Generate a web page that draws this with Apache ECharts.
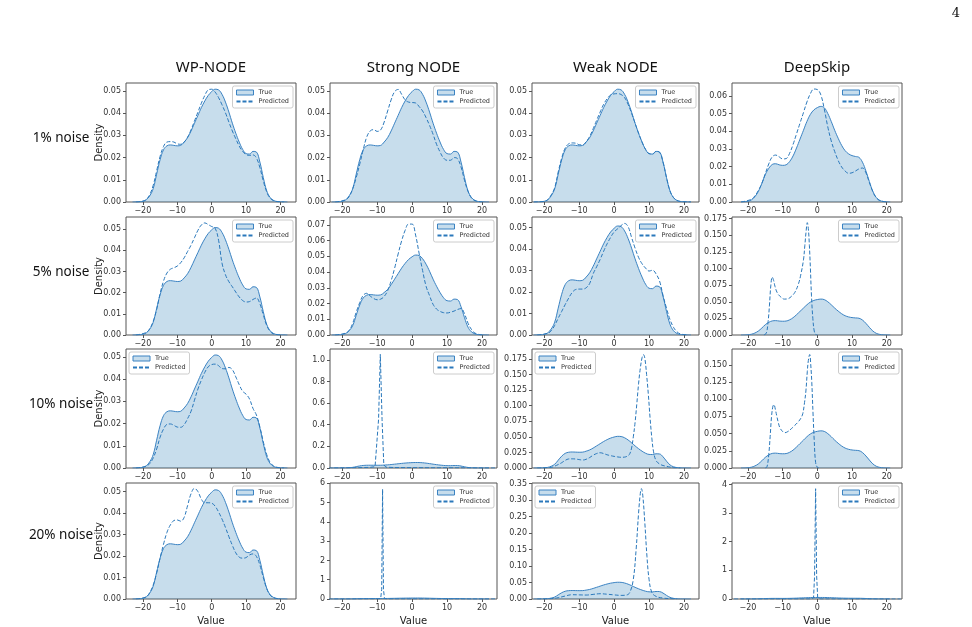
<!DOCTYPE html>
<html>
<head>
<meta charset="utf-8">
<script src="https://cdn.jsdelivr.net/npm/echarts@6/dist/echarts.min.js"></script>
<style>
html, body { margin: 0; padding: 0; background: #fff; }
#main { width: 972px; height: 627px; }
</style>
</head>
<body>
<div id="main"></div>
<script>
var methods = ['WP-NODE', 'Strong NODE', 'Weak NODE', 'DeepSkip'];
var noiseLevels = ['1% noise', '5% noise', '10% noise', '20% noise'];
var xTicks = [-20, -10, 0, 10, 20];

// true densities (same data in columns 1-3, another run for DeepSkip)
var trueMain = [[-23,0],[-21,0.0001],[-20,0.0003],[-19,0.001],[-18,0.0028],[-17,0.006],[-16,0.0125],[-15,0.019],[-14,0.0235],[-13,0.0253],[-12,0.0257],[-11,0.0255],[-10,0.0253],[-9,0.0255],[-8,0.027],[-7,0.029],[-6,0.032],[-5,0.0355],[-4,0.039],[-3,0.0425],[-2,0.0455],[-1,0.048],[0,0.0497],[1,0.0508],[2,0.0505],[3,0.0485],[4,0.045],[5,0.0405],[6,0.0355],[7,0.031],[8,0.027],[9,0.0237],[10,0.0218],[11,0.0216],[12,0.0228],[13,0.0225],[14,0.018],[15,0.011],[16,0.005],[17,0.002],[18,0.0007],[19,0.0002],[20,0.0001],[22,0]];
var trueDeep = [[-22,0],[-20,0.0004],[-19,0.0012],[-18,0.003],[-17,0.006],[-16,0.0105],[-15,0.0155],[-14,0.019],[-13,0.0212],[-12,0.0216],[-11,0.021],[-10,0.0207],[-9,0.021],[-8,0.0228],[-7,0.026],[-6,0.0305],[-5,0.0355],[-4,0.0405],[-3,0.0455],[-2,0.0495],[-1,0.052],[0,0.0533],[1,0.054],[2,0.0532],[3,0.05],[4,0.0455],[5,0.0405],[6,0.036],[7,0.032],[8,0.029],[9,0.0272],[10,0.0262],[11,0.0257],[12,0.0252],[13,0.0225],[14,0.0175],[15,0.0115],[16,0.006],[17,0.0025],[18,0.0009],[19,0.0003],[21,0]];

// predicted densities, 1% noise
var predWp1 = [[-22,0],[-20,0.0004],[-19,0.0012],[-18,0.0033],[-17,0.0075],[-16,0.014],[-15,0.0205],[-14,0.025],[-13,0.027],[-12,0.0272],[-11,0.027],[-10,0.0262],[-9,0.026],[-8,0.027],[-7,0.0292],[-6,0.0325],[-5,0.0365],[-4,0.0405],[-3,0.0445],[-2,0.048],[-1,0.0505],[0,0.0508],[1,0.0495],[2,0.047],[3,0.0438],[4,0.0402],[5,0.036],[6,0.032],[7,0.0285],[8,0.0252],[9,0.0228],[10,0.0214],[11,0.021],[12,0.0212],[13,0.0198],[14,0.0155],[15,0.0095],[16,0.0045],[17,0.0017],[18,0.0006],[19,0.0002],[21,0]];
var predStrong1 = [[-22,0],[-19,0.001],[-18,0.0025],[-17,0.006],[-16,0.011],[-15,0.017],[-14,0.0235],[-13,0.0292],[-12,0.032],[-11,0.0326],[-10,0.0318],[-9,0.0325],[-8,0.036],[-7,0.041],[-6,0.046],[-5,0.0497],[-4,0.0507],[-3,0.0485],[-2,0.046],[-1,0.045],[0,0.0448],[1,0.0446],[2,0.043],[3,0.041],[4,0.038],[5,0.0345],[6,0.0305],[7,0.026],[8,0.0225],[9,0.0198],[10,0.0188],[11,0.0188],[12,0.02],[13,0.0195],[14,0.0158],[15,0.0098],[16,0.0048],[17,0.0018],[18,0.0006],[20,0]];
var predWeak1 = [[-23,0],[-20,0.0003],[-19,0.001],[-18,0.0032],[-17,0.0065],[-16,0.0135],[-15,0.0198],[-14,0.0243],[-13,0.0262],[-12,0.0266],[-11,0.0265],[-10,0.0258],[-9,0.0257],[-8,0.0272],[-7,0.0295],[-6,0.033],[-5,0.0368],[-4,0.0405],[-3,0.044],[-2,0.0465],[-1,0.0482],[0,0.0487],[1,0.0488],[2,0.0484],[3,0.047],[4,0.044],[5,0.04],[6,0.0355],[7,0.031],[8,0.027],[9,0.0237],[10,0.0218],[11,0.0216],[12,0.0228],[13,0.0224],[14,0.018],[15,0.011],[16,0.005],[17,0.002],[18,0.0007],[20,0.0001],[22,0]];
var predDeep1 = [[-22,0],[-19,0.0015],[-18,0.0035],[-17,0.0065],[-16,0.0105],[-15,0.016],[-14,0.0215],[-13,0.0255],[-12,0.0265],[-11,0.0255],[-10,0.0243],[-9,0.0245],[-8,0.0275],[-7,0.0325],[-6,0.0385],[-5,0.0445],[-4,0.0505],[-3,0.0565],[-2,0.0612],[-1,0.0638],[0,0.0635],[1,0.0605],[2,0.0525],[3,0.0425],[4,0.0345],[5,0.0285],[6,0.0235],[7,0.0198],[8,0.0175],[9,0.0162],[10,0.0165],[11,0.0175],[12,0.0187],[13,0.0192],[14,0.0165],[15,0.011],[16,0.0058],[17,0.0024],[18,0.0008],[20,0]];

// 5% noise
var predWp5 = [[-22,0],[-19,0.0012],[-18,0.003],[-17,0.0065],[-16,0.012],[-15,0.0195],[-14,0.0255],[-13,0.0293],[-12,0.0311],[-11,0.0318],[-10,0.0326],[-9,0.0342],[-8,0.0365],[-7,0.0395],[-6,0.0425],[-5,0.046],[-4,0.0495],[-3,0.052],[-2,0.053],[-1,0.0522],[0,0.0513],[1,0.0505],[2,0.0448],[3,0.034],[4,0.0285],[5,0.0252],[6,0.0228],[7,0.0203],[8,0.018],[9,0.0163],[10,0.0156],[11,0.0158],[12,0.0168],[13,0.0175],[14,0.0148],[15,0.0095],[16,0.0045],[17,0.0017],[18,0.0005],[20,0]];
var predStrong5 = [[-22,0],[-19,0.0012],[-18,0.003],[-17,0.0075],[-16,0.0145],[-15,0.0205],[-14,0.0252],[-13,0.0265],[-12,0.0248],[-11,0.0232],[-10,0.0224],[-9,0.0228],[-8,0.0245],[-7,0.0282],[-6,0.0345],[-5,0.0425],[-4,0.0515],[-3,0.0598],[-2,0.0665],[-1,0.0705],[0,0.0705],[1,0.0635],[2,0.052],[3,0.041],[4,0.031],[5,0.025],[6,0.0195],[7,0.0165],[8,0.015],[9,0.0142],[10,0.014],[11,0.0145],[12,0.0152],[13,0.0162],[14,0.0168],[15,0.0135],[16,0.0075],[17,0.0035],[18,0.0012],[20,0]];
var predWeak5 = [[-22,0],[-19,0.0008],[-18,0.002],[-17,0.0045],[-16,0.0078],[-15,0.011],[-14,0.0142],[-13,0.0172],[-12,0.0198],[-11,0.0212],[-10,0.0214],[-9,0.0214],[-8,0.022],[-7,0.024],[-6,0.0285],[-5,0.0318],[-4,0.0352],[-3,0.039],[-2,0.0425],[-1,0.0455],[0,0.048],[1,0.0495],[2,0.051],[3,0.052],[4,0.0505],[5,0.0455],[6,0.0405],[7,0.0362],[8,0.0332],[9,0.0312],[10,0.0298],[11,0.0302],[12,0.0285],[13,0.0252],[14,0.0185],[15,0.0125],[16,0.0072],[17,0.0036],[18,0.0015],[19,0.0005],[21,0]];
var predDeep5 = [[-15.4,0],[-14.7,0.003],[-14.2,0.02],[-13.8,0.045],[-13.4,0.075],[-13,0.087],[-12.6,0.082],[-12.2,0.073],[-11.5,0.063],[-10.5,0.057],[-9.5,0.054],[-8.5,0.0545],[-7.5,0.058],[-6.5,0.064],[-5.5,0.076],[-4.8,0.09],[-4,0.113],[-3.6,0.135],[-3.2,0.158],[-2.9,0.169],[-2.6,0.16],[-2.3,0.135],[-2,0.1],[-1.7,0.06],[-1.3,0.025],[-0.9,0.006],[-0.5,0.001],[0,0]];

// 10% noise
var predWp10 = [[-22,0],[-19,0.0008],[-18,0.002],[-17,0.0045],[-16,0.0085],[-15,0.0138],[-14,0.0175],[-13,0.0196],[-12,0.0198],[-11,0.0192],[-10,0.0184],[-9,0.0183],[-8,0.0195],[-7,0.0222],[-6,0.0255],[-5,0.0305],[-4,0.0355],[-3,0.0395],[-2,0.043],[-1,0.0455],[0,0.0465],[1,0.0467],[2,0.046],[3,0.0447],[4,0.0446],[5,0.0452],[6,0.0442],[7,0.041],[8,0.0375],[9,0.0345],[10,0.0332],[11,0.031],[12,0.0268],[13,0.0238],[14,0.0185],[15,0.0118],[16,0.006],[17,0.0025],[18,0.0009],[19,0.0003],[21,0]];
var predStrong10 = [[-24,0],[-20,0.001],[-16,0.003],[-12,0.006],[-10.6,0.012],[-10.1,0.03],[-9.6,0.45],[-9.1,1.05],[-8.6,0.45],[-8.1,0.03],[-7.5,0.008],[-5,0.004],[0,0.003],[5,0.002],[10,0.002],[15,0.001],[20,0],[24,0]];
var predWeak10 = [[-22,0],[-18,0.001],[-17,0.003],[-16,0.0055],[-15,0.0085],[-14,0.0122],[-13,0.0145],[-12,0.0147],[-11,0.0144],[-10,0.0135],[-9,0.0128],[-8,0.014],[-7,0.0168],[-6,0.0205],[-5,0.0232],[-4,0.0245],[-3,0.0232],[-2,0.0212],[-1,0.0198],[0,0.0187],[1,0.0178],[2,0.0172],[3,0.0175],[4,0.0198],[4.5,0.023],[5,0.032],[5.5,0.05],[6,0.073],[6.5,0.103],[7,0.135],[7.5,0.16],[8,0.177],[8.4,0.182],[8.8,0.176],[9.3,0.15],[9.8,0.118],[10.3,0.08],[10.8,0.048],[11.3,0.026],[12,0.012],[13,0.0065],[14,0.004],[15,0.0027],[16,0.0015],[17,0.0005],[19,0]];
var predDeep10 = [[-15,0],[-14.5,0.002],[-14,0.02],[-13.6,0.046],[-13.2,0.075],[-12.8,0.09],[-12.5,0.092],[-12.1,0.085],[-11.7,0.0757],[-11.2,0.065],[-10.8,0.0586],[-10,0.053],[-9.4,0.0513],[-8.5,0.053],[-7.5,0.0571],[-6.5,0.062],[-5.7,0.066],[-4.8,0.072],[-4.2,0.079],[-3.7,0.095],[-3.3,0.112],[-2.9,0.14],[-2.6,0.156],[-2.2,0.165],[-1.9,0.15],[-1.6,0.1245],[-1.25,0.08],[-0.9,0.04],[-0.5,0.008],[0,0.001],[0.5,0]];

// 20% noise
var predWp20 = [[-22,0],[-19,0.001],[-18,0.003],[-17,0.0065],[-16,0.012],[-15,0.019],[-14,0.0255],[-13,0.031],[-12,0.0345],[-11,0.0365],[-10,0.0368],[-9,0.0362],[-8,0.038],[-7,0.0435],[-6,0.049],[-5,0.0515],[-4,0.05],[-3,0.0465],[-2,0.0448],[-1,0.0448],[0,0.0446],[1,0.0432],[2,0.0405],[3,0.0372],[4,0.0333],[5,0.029],[6,0.025],[7,0.0215],[8,0.0195],[9,0.019],[10,0.0193],[11,0.0205],[12,0.021],[13,0.0198],[14,0.0158],[15,0.01],[16,0.0048],[17,0.0018],[18,0.0006],[20,0]];
var predStrong20 = [[-24,0],[-12,0.001],[-9.6,0.004],[-9,0.02],[-8.7,0.5],[-8.45,5.7],[-8.2,0.5],[-7.9,0.02],[-7,0.003],[0,0.001],[24,0]];
var predWeak20 = [[-22,0],[-18,0.001],[-16,0.004],[-14,0.009],[-12,0.013],[-10,0.0125],[-8,0.012],[-6,0.014],[-4,0.016],[-2,0.0145],[0,0.0125],[2,0.011],[3.5,0.012],[4.5,0.02],[5.5,0.06],[6.3,0.15],[7,0.26],[7.5,0.32],[7.8,0.335],[8.2,0.315],[8.8,0.23],[9.4,0.13],[10,0.06],[10.8,0.02],[12,0.008],[14,0.003],[16,0.001],[18,0]];
var predDeep20 = [[-24,0],[-2,0],[-1.1,0.04],[-0.8,0.8],[-0.5,3.85],[-0.2,0.8],[0.1,0.04],[1,0],[24,0]];

// y ticks
var yTicks05 = [0, 0.01, 0.02, 0.03, 0.04, 0.05];
var yTicks06 = [0, 0.01, 0.02, 0.03, 0.04, 0.05, 0.06];
var yTicks07 = [0, 0.01, 0.02, 0.03, 0.04, 0.05, 0.06, 0.07];
var yTicks175 = [0, 0.025, 0.05, 0.075, 0.1, 0.125, 0.15, 0.175];
var yTicks150 = [0, 0.025, 0.05, 0.075, 0.1, 0.125, 0.15];
var yTicks10 = [0, 0.2, 0.4, 0.6, 0.8, 1.0];
var yTicks35 = [0, 0.05, 0.1, 0.15, 0.2, 0.25, 0.3, 0.35];
var yTicks6 = [0, 1, 2, 3, 4, 5, 6];
var yTicks4 = [0, 1, 2, 3, 4];

// panels row by row
var panelTrue = [trueMain, trueMain, trueMain, trueDeep];
var panelPred = [predWp1, predStrong1, predWeak1, predDeep1,
                 predWp5, predStrong5, predWeak5, predDeep5,
                 predWp10, predStrong10, predWeak10, predDeep10,
                 predWp20, predStrong20, predWeak20, predDeep20];
var panelYMax = [0.0536, 0.0536, 0.0536, 0.0672,
                 0.0558, 0.075, 0.055, 0.1775,
                 0.0535, 1.10, 0.191, 0.173,
                 0.054, 6.02, 0.352, 4.05];
var panelYTicks = [yTicks05, yTicks05, yTicks05, yTicks06,
                   yTicks05, yTicks07, yTicks05, yTicks175,
                   yTicks05, yTicks10, yTicks175, yTicks150,
                   yTicks05, yTicks6, yTicks35, yTicks4];
var panelYDec = [2, 2, 2, 2, 2, 2, 2, 3, 2, 1, 3, 3, 2, 0, 2, 0];
var colXMin = [-24.9, -23.5, -23.5, -24.6];
var colXMax = [24.5, 24.3, 24.3, 24.4];

// layout
var colLeft = [126, 330, 532, 732];
var colWidth = [170, 167, 167, 170];
var rowTop = [83, 217, 349, 483];
var rowHeight = [119, 118, 119, 117];
var legendOnLeft = [0,0,0,0, 0,0,0,0, 1,0,1,0, 0,0,1,0];

var fillColor = 'rgba(31,119,180,0.25)';
var lineColor = '#3a82c2';
var tickColor = '#333';

var grids = [], xAxes = [], yAxes = [], series = [], legends = [], graphics = [];

function fmtX(v) {
    return v < 0 ? '\u2212' + (-v) : String(v);
}

for (var r = 0; r < 4; r++) {
    for (var c = 0; c < 4; c++) {
        var i = r * 4 + c;
        var dec = panelYDec[i];
        grids.push({
            left: colLeft[c], top: rowTop[r], width: colWidth[c], height: rowHeight[r],
            show: true, borderColor: '#555', borderWidth: 1, backgroundColor: 'transparent'
        });
        xAxes.push({
            type: 'value', gridIndex: i, min: colXMin[c], max: colXMax[c],
            name: r === 3 ? 'Value' : '', nameLocation: 'middle', nameGap: 17,
            nameMoveOverlap: false,
            nameTextStyle: { fontSize: 10, color: '#222', fontFamily: 'DejaVu Sans' },
            axisLine: { show: false, onZero: false },
            splitLine: { show: false },
            axisTick: { show: true, length: 3, customValues: xTicks, lineStyle: { color: '#555' } },
            axisLabel: { customValues: xTicks, fontSize: 8, margin: 5, color: tickColor,
                         fontFamily: 'DejaVu Sans', formatter: fmtX }
        });
        yAxes.push({
            type: 'value', gridIndex: i, min: 0, max: panelYMax[i],
            name: c === 0 ? 'Density' : '', nameLocation: 'middle', nameGap: 22,
            nameMoveOverlap: false,
            nameTextStyle: { fontSize: 10, color: '#222', fontFamily: 'DejaVu Sans' },
            axisLine: { show: false, onZero: false },
            splitLine: { show: false },
            axisTick: { show: true, length: 3, customValues: panelYTicks[i], lineStyle: { color: '#555' } },
            axisLabel: { customValues: panelYTicks[i], fontSize: 8, margin: 5, color: tickColor,
                         fontFamily: 'DejaVu Sans',
                         formatter: (function (d) { return function (v) { return v.toFixed(d); }; })(dec) }
        });
        series.push({
            name: 'True', type: 'line', xAxisIndex: i, yAxisIndex: i,
            data: panelTrue[c], smooth: 0.4, symbol: 'none',
            lineStyle: { color: lineColor, width: 1 },
            itemStyle: { color: lineColor },
            areaStyle: { color: fillColor, opacity: 1 }
        });
        series.push({
            name: 'Predicted', type: 'line', xAxisIndex: i, yAxisIndex: i,
            data: panelPred[i], smooth: (i === 9 || i === 13 || i === 15) ? false : 0.4, symbol: 'none',
            lineStyle: { color: '#2a78bb', width: 1, type: [4, 2] },
            itemStyle: { color: '#2a78bb' },
            z: 3
        });
        var lg = {
            orient: 'vertical', top: rowTop[r] + 3, selectedMode: false,
            itemWidth: 17, itemHeight: 5, itemGap: 2, padding: [3, 4, 3, 3],
            borderColor: '#ccc', borderWidth: 1, borderRadius: 2,
            backgroundColor: 'rgba(255,255,255,0.8)',
            textStyle: { fontSize: 6.5, color: '#333', fontFamily: 'DejaVu Sans' },
            data: [
                { name: 'True', icon: 'rect', itemStyle: { color: fillColor, borderColor: lineColor, borderWidth: 1 } },
                { name: 'Predicted', itemStyle: { color: 'rgba(0,0,0,0)', borderWidth: 0 } }
            ]
        };
        if (legendOnLeft[i]) {
            lg.left = colLeft[c] + 3;
        } else {
            lg.right = 972 - (colLeft[c] + colWidth[c]) + 3;
        }
        legends.push(lg);
    }
}

for (c = 0; c < 4; c++) {
    graphics.push({
        type: 'text', x: colLeft[c] + colWidth[c] / 2, y: 68,
        style: { text: methods[c], align: 'center', verticalAlign: 'middle',
                 font: '15px "Noto Sans"', fill: '#111' }
    });
}
var rowLabelY = [138, 272, 404, 535];
for (r = 0; r < 4; r++) {
    graphics.push({
        type: 'text', x: 61, y: rowLabelY[r],
        style: { text: noiseLevels[r], align: 'center', verticalAlign: 'middle',
                 font: '13.5px "Noto Sans"', fill: '#111' }
    });
}
graphics.push({
    type: 'text', x: 956, y: 14,
    style: { text: '4', align: 'center', verticalAlign: 'middle',
             font: '13px "DejaVu Serif"', fill: '#111' }
});

var myChart = echarts.init(document.getElementById('main'));
myChart.setOption({
    animation: false,
    backgroundColor: '#fff',
    grid: grids,
    xAxis: xAxes,
    yAxis: yAxes,
    legend: legends,
    series: series,
    graphic: graphics
});
</script>
</body>
</html>
